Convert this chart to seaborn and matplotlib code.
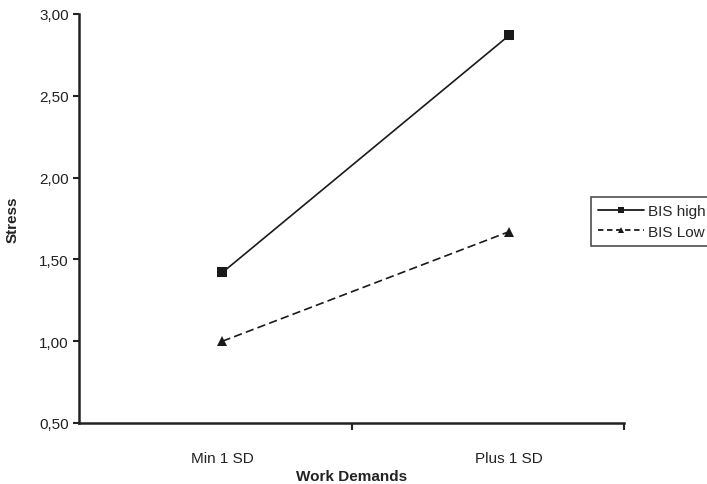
import matplotlib
matplotlib.use('Agg')
import matplotlib.pyplot as plt
import seaborn as sns
import pandas as pd
from matplotlib.ticker import FuncFormatter, FixedLocator
from matplotlib.lines import Line2D

# values
demands = ["Min 1 SD", "Plus 1 SD"]
bis_high = [1.42, 2.87]
bis_low = [1.00, 1.67]
groups = ["BIS high", "BIS Low"]

df = pd.DataFrame({
    "Work Demands": demands * 2,
    "Stress": bis_high + bis_low,
    "group": [groups[0]] * 2 + [groups[1]] * 2,
})

sns.set_style("white")
plt.rcParams["font.family"] = ["Liberation Sans", "DejaVu Sans"]

INK = "#222222"
fig = plt.figure(figsize=(7.07, 4.85), dpi=100)
ax = fig.add_axes([79 / 707, 1 - 424 / 485, 545 / 707, 409 / 485])

sns.lineplot(
    data=df, x="Work Demands", y="Stress", style="group",
    markers={"BIS high": "s", "BIS Low": "^"},
    dashes={"BIS high": "", "BIS Low": (5, 2.5)},
    color="#1a1a1a", linewidth=1.2, markersize=7,
    markeredgewidth=0, ax=ax, legend=False,
)

ax.set_xlim(-0.5, 1.4)
ax.set_ylim(0.5, 3.0)
ax.set_yticks([0.5, 1.0, 1.5, 2.0, 2.5, 3.0])
ax.yaxis.set_major_formatter(FuncFormatter(lambda v, p: f"{v:.2f}".replace(".", ",")))
ax.set_xticks([0, 1])
ax.set_xticklabels(demands)
ax.xaxis.set_minor_locator(FixedLocator([0.45, 1.4]))
ax.tick_params(axis="x", which="major", bottom=False, length=0, pad=20, labelsize=11, colors=INK)
ax.tick_params(axis="x", which="minor", bottom=True, length=5, width=1.5, direction="out", color=INK)
ax.tick_params(axis="y", left=True, length=4, width=1.5, direction="out", labelsize=11, colors=INK)

for side in ["top", "right"]:
    ax.spines[side].set_visible(False)
for side in ["left", "bottom"]:
    ax.spines[side].set_color(INK)
    ax.spines[side].set_linewidth(1.8)

ax.set_xlabel("Work Demands", fontsize=11, fontweight="bold", color=INK)
ax.xaxis.set_label_coords(0.5, -(477 - 424) / 409)
ax.xaxis.label.set_va("center")
ax.set_ylabel("Stress", fontsize=11, fontweight="bold", labelpad=14, color=INK)

handles = [
    Line2D([], [], color="#1a1a1a", lw=1.3, marker="s", markersize=5, markeredgewidth=0),
    Line2D([], [], color="#1a1a1a", lw=1.3, marker="^", markersize=5, markeredgewidth=0, dashes=(3, 2)),
]
leg = fig.legend(
    handles, groups, loc="upper left", bbox_to_anchor=(591 / 707, 1 - 198 / 485),
    frameon=True, fancybox=False, fontsize=11, handlelength=3.0, handletextpad=0.25,
    borderpad=0.45, labelspacing=0.45, borderaxespad=0,
)
leg.get_frame().set_edgecolor(INK)
leg.get_frame().set_linewidth(1.2)

fig.savefig("out.png", dpi=100)
